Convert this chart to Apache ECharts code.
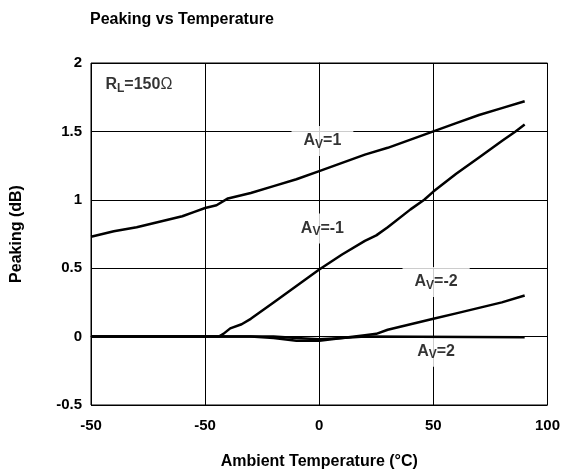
<!DOCTYPE html>
<html><head><meta charset="utf-8">
<script src="https://cdn.jsdelivr.net/npm/echarts@6/dist/echarts.min.js"></script>
<style>html,body{margin:0;padding:0;background:#fff}#c{width:563px;height:475px}</style>
</head><body><div id="c"></div>
<script>
var FONT = '"Liberation Sans", Arial, Helvetica, sans-serif';
var titleText = 'Peaking vs Temperature';
var xName = 'Ambient Temperature (\u00B0C)';
var yName = 'Peaking (dB)';
var xMin = -100, xMax = 100, xStep = 50;
var xTickLabels = ['-50', '-50', '0', '50', '100'];
var yMin = -0.5, yMax = 2, yStep = 0.5;

// [temperature, peaking dB]
var av1 = [[-100,0.73],[-90,0.77],[-80,0.80],[-70,0.84],[-60,0.88],[-55,0.91],[-50,0.94],[-45,0.96],[-40,1.01],[-30,1.05],[-20,1.10],[-10,1.15],[0,1.21],[10,1.27],[20,1.33],[30,1.38],[40,1.44],[50,1.50],[60,1.56],[70,1.62],[80,1.67],[90,1.72]];
var avm1 = [[-100,0],[-44,0],[-42,0.02],[-39,0.06],[-34,0.09],[-30,0.13],[-20,0.25],[-10,0.37],[0,0.49],[10,0.60],[20,0.70],[25,0.74],[30,0.80],[40,0.93],[46,1.0],[50,1.06],[60,1.19],[70,1.31],[80,1.43],[86,1.5],[90,1.55]];
var avm2 = [[-100,0],[-30,0],[-20,-0.01],[-10,-0.03],[0,-0.03],[10,-0.01],[20,0.01],[25,0.02],[30,0.05],[35,0.07],[40,0.09],[50,0.13],[60,0.17],[70,0.21],[80,0.25],[90,0.30]];
var av2 = [[-100,0],[-20,0],[-10,-0.01],[0,-0.02],[10,-0.01],[20,0],[90,-0.005]];

// annotations: [x, y, rich text]
var notes = [
  [1.4, 1.43, '{a|A}{s|V}{a|=1}'],
  [1.4, 0.79, '{a|A}{s|V}{a|=-1}'],
  [51.2, 0.40, '{a|A}{s|V}{a|=-2}'],
  [51.2, -0.11, '{a|A}{s|V}{a|=2}'],
  [-79, 1.84, '{a|R}{s|L}{a|=150}{o|\u03A9}']
];

var chart = echarts.init(document.getElementById('c'));
function curve(d) {
  return {type:'line', data:d, showSymbol:false, symbol:'none', smooth:false,
    lineStyle:{color:'#000', width:2.5}, z:5, animation:false};
}
chart.setOption({
  animation:false,
  backgroundColor:'#fff',
  title:{text:titleText, left:85, top:7, textStyle:{fontFamily:FONT, fontSize:16, fontWeight:'bold', color:'#000'}},
  grid:{left:91, right:10.5, top:63, bottom:64.5, show:true, borderColor:'#000', borderWidth:1, containLabel:false},
  xAxis:{type:'value', min:xMin, max:xMax, interval:xStep,
    name:xName, nameLocation:'middle', nameGap:49,
    nameTextStyle:{fontFamily:FONT, fontSize:16, fontWeight:'bold', color:'#000'},
    axisLine:{show:true, lineStyle:{color:'#000', width:1}},
    axisTick:{show:false},
    axisLabel:{margin:13, fontFamily:FONT, fontSize:15, fontWeight:'bold', color:'#000',
      formatter:function(v){ return xTickLabels[Math.round((v - xMin)/xStep)]; }},
    splitLine:{show:true, lineStyle:{color:'#000', width:1}}},
  yAxis:{type:'value', min:yMin, max:yMax, interval:yStep,
    name:yName, nameLocation:'middle', nameGap:66,
    nameTextStyle:{fontFamily:FONT, fontSize:16, fontWeight:'bold', color:'#000'},
    axisLine:{show:true, lineStyle:{color:'#000', width:1}},
    axisTick:{show:false},
    axisLabel:{margin:9, fontFamily:FONT, fontSize:15, fontWeight:'bold', color:'#000'},
    splitLine:{show:true, lineStyle:{color:'#000', width:1}}},
  series:[
    curve(av1), curve(avm1), curve(avm2), curve(av2),
    {type:'scatter', symbolSize:0, z:3, silent:true,
      data:notes.map(function(n){return {value:[n[0], n[1]], label:{formatter:n[2]}};}),
      label:{show:true, position:'inside', backgroundColor:'#fff', padding:[6,12,6,12],
        rich:{
          a:{fontFamily:FONT, fontSize:16, fontWeight:'bold', color:'#000', lineHeight:18},
          s:{fontFamily:FONT, fontSize:12, fontWeight:'bold', color:'#000', lineHeight:18, padding:[7,0,0,0]},
          o:{fontFamily:FONT, fontSize:16, fontWeight:'normal', color:'#000', lineHeight:18}
        }}}
  ]
});
</script></body></html>
